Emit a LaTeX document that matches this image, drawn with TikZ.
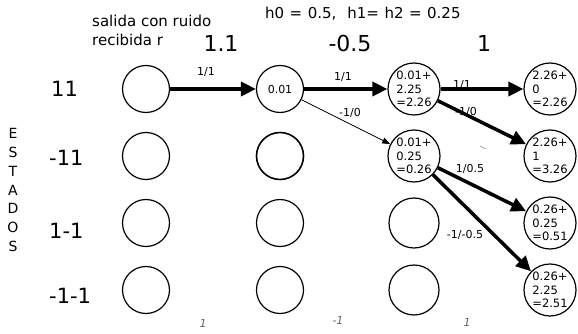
\documentclass[tikz,border=0pt]{standalone}
\usepackage{fontspec}
\setmainfont{DejaVu Sans}
\usetikzlibrary{arrows.meta}
\begin{document}
\begin{tikzpicture}[x=1pt,y=-1pt,
 st/.style={circle,draw,line width=1.2pt,minimum size=47pt,inner sep=0pt},
 stb/.style={st,minimum size=52pt,font=\fontsize{11.5}{13.5}\selectfont,align=left},
 thickarr/.style={line width=3.5pt,-{Triangle[length=15pt,width=14pt]}},
 thinarr/.style={line width=0.8pt,-{Triangle[length=8pt,width=6pt]}},
 lab/.style={font=\fontsize{11}{12}\selectfont,inner sep=0pt},
 big/.style={font=\fontsize{21}{23}\selectfont,inner sep=0pt},
 num/.style={font=\fontsize{22}{24}\selectfont,inner sep=0pt},
 txt/.style={font=\fontsize{15}{19}\selectfont,inner sep=0pt,align=left},
 hand/.style={font=\fontsize{11}{12}\itshape,text=black!60,inner sep=0pt}]
\useasboundingbox (0,0) rectangle (578,334);
% titles
\node[txt,anchor=west] (t1) at (92,30) {salida con ruido\\recibida r};
\node[txt,anchor=west] (t2) at (265,14) {\spaceskip=5.5pt h0 = 0.5,\hspace{11pt}h1= h2 = 0.25};
\node[num] (r1) at (221,43) {1.1};
\node[num] (r2) at (350,43) {-0.5};
\node[num] (r3) at (484,43) {1};
% state labels
\node[big,anchor=west] (s1) at (51,89) {11};
\node[big,anchor=west] (s2) at (49,158) {-11};
\node[big,anchor=west] (s3) at (49,231) {1-1};
\node[big,anchor=west] (s4) at (49,296) {-1-1};
\node[font=\fontsize{14}{18.8}\selectfont,align=center,inner sep=0pt] (est) at (13,190) {E\\S\\T\\A\\D\\O\\S};
% column 1
\node[st] (a1) at (146,89) {};
\node[st] (a2) at (146,156) {};
\node[st] (a3) at (146,223) {};
\node[st] (a4) at (146,290) {};
% column 2
\node[st,font=\fontsize{11}{12}\selectfont] (b1) at (280,89) {0.01};
\node[st,line width=1.6pt] (b2) at (280,156) {};
\node[st] (b3) at (280,223) {};
\node[st] (b4) at (280,290) {};
% column 3
\node[stb] (c1) at (414,89) {0.01+\\2.25\\=2.26};
\node[stb] (c2) at (414,156) {0.01+\\0.25\\=0.26};
\node[st,minimum size=50pt] (c3) at (414,223) {};
\node[st,minimum size=50pt] (c4) at (414,290) {};
% column 4
\node[stb] (d1) at (550,89) {2.26+\\0\\=2.26};
\node[stb] (d2) at (550,156) {2.26+\\1\\=3.26};
\node[stb] (d3) at (550,223) {0.26+\\0.25\\=0.51};
\node[stb] (d4) at (550,290) {0.26+\\2.25\\=2.51};
% edges
\draw[thickarr] (a1) -- (b1);
\draw[thickarr] (b1) -- (c1);
\draw[thinarr] (b1) -- (c2);
\draw[thickarr] (c1) -- (d1);
\draw[thickarr] (c1) -- (d2);
\draw[thickarr] (c2) -- (d3);
\draw[thickarr] (c2) -- (d4);
% edge labels
\node[lab] (l1) at (206,72) {1/1};
\node[lab] (l2) at (343,77) {1/1};
\node[lab] (l3) at (350,113) {-1/0};
\node[lab] (l4) at (462,85) {1/1};
\node[lab] (l5) at (466,112) {-1/0};
\node[lab] (l6) at (470,169) {1/0.5};
\node[lab] (l7) at (465,235) {-1/-0.5};
% handwritten marks
\node[hand] (h1) at (203,323) {1};
\node[hand] (h2) at (338,320) {-1};
\node[hand] (h3) at (467,322) {1};
\draw[black!45,line width=0.5pt] (480,146) -- (486,149);
\end{tikzpicture}
\end{document}
